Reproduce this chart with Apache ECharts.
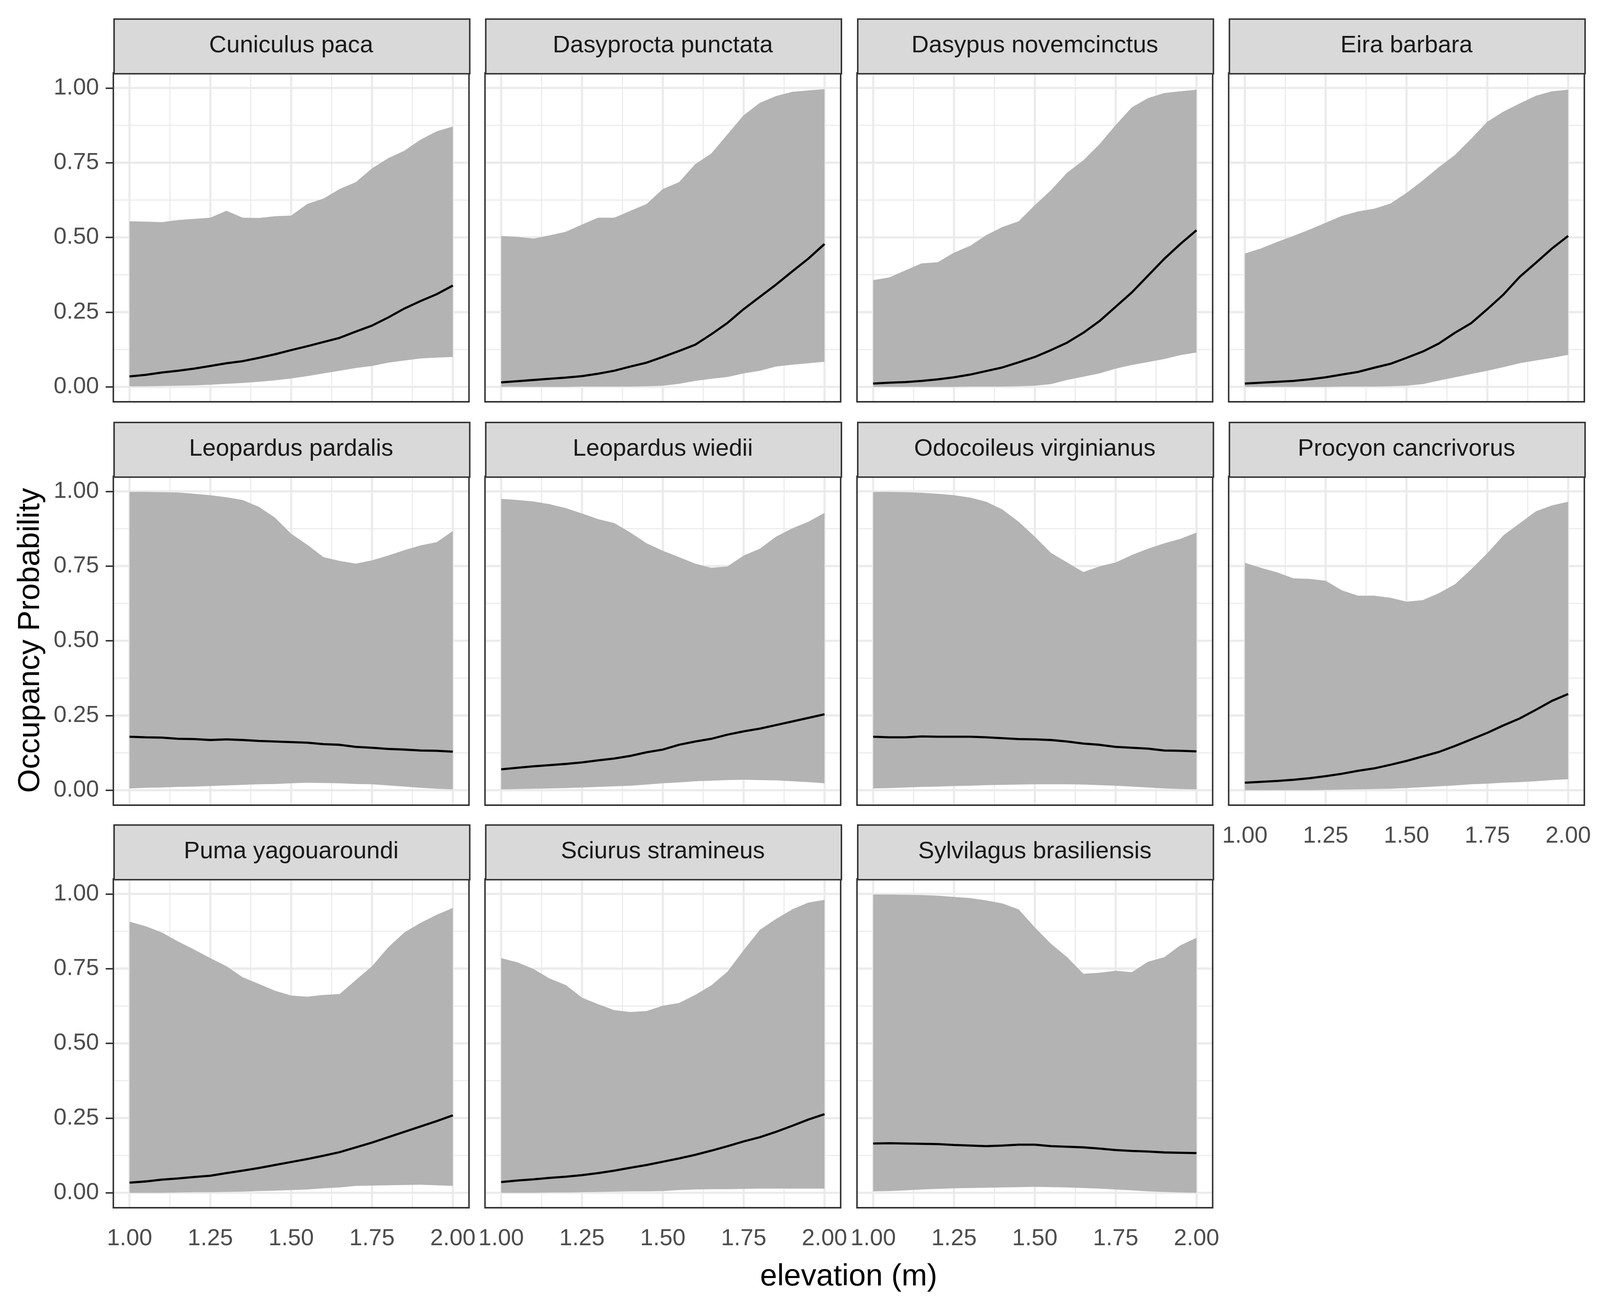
<!DOCTYPE html>
<html>
<head>
<meta charset="utf-8">
<script src="https://cdn.jsdelivr.net/npm/echarts@6/dist/echarts.min.js"></script>
<style>html,body{margin:0;padding:0;background:#fff;overflow:hidden}#c{width:100vw;height:100vh}</style>
</head>
<body>
<div id="c"></div>
<script>
// ---------- data ----------
const elevation = [1.00,1.05,1.10,1.15,1.20,1.25,1.30,1.35,1.40,1.45,1.50,1.55,1.60,1.65,1.70,1.75,1.80,1.85,1.90,1.95,2.00];
const xTicks = [1.00,1.25,1.50,1.75,2.00];
const xMinor = [1.125,1.375,1.625,1.875];
const yTicks = [0.00,0.25,0.50,0.75,1.00];
const yMinor = [0.125,0.375,0.625,0.875];
const species = ["Cuniculus paca","Dasyprocta punctata","Dasypus novemcinctus","Eira barbara",
  "Leopardus pardalis","Leopardus wiedii","Odocoileus virginianus","Procyon cancrivorus",
  "Puma yagouaroundi","Sciurus stramineus","Sylvilagus brasiliensis"];

const cuniculusMean  = [.035,.040,.048,.054,.061,.070,.079,.086,.097,.109,.123,.136,.150,.164,.185,.205,.232,.262,.287,.310,.339];
const cuniculusUpper = [.554,.553,.551,.558,.562,.566,.589,.566,.565,.571,.573,.612,.630,.662,.685,.731,.765,.790,.827,.855,.871];
const cuniculusLower = [.002,.002,.003,.004,.005,.007,.010,.013,.017,.022,.028,.036,.045,.054,.063,.070,.081,.088,.095,.098,.100];

const dasyproctaMean  = [.015,.019,.023,.027,.031,.036,.044,.054,.068,.081,.100,.120,.141,.176,.214,.260,.301,.342,.386,.429,.478];
const dasyproctaUpper = [.505,.502,.496,.507,.519,.543,.566,.566,.589,.612,.662,.685,.745,.781,.845,.909,.950,.973,.987,.992,.996];
const dasyproctaLower = [.000,.000,.000,.000,.000,.001,.001,.001,.001,.002,.004,.010,.020,.027,.033,.045,.054,.068,.074,.079,.084];

const dasypusMean  = [.011,.014,.016,.020,.025,.032,.041,.053,.065,.082,.100,.123,.148,.181,.220,.268,.316,.372,.428,.478,.524];
const dasypusUpper = [.357,.366,.390,.413,.417,.449,.472,.508,.535,.554,.608,.658,.717,.758,.812,.876,.935,.966,.983,.989,.994];
const dasypusLower = [.000,.000,.000,.000,.000,.000,.001,.001,.001,.002,.004,.009,.023,.034,.045,.061,.073,.083,.093,.106,.115];

const eiraMean  = [.011,.014,.017,.020,.025,.032,.041,.050,.064,.077,.097,.118,.145,.181,.213,.260,.309,.368,.415,.463,.505];
const eiraUpper = [.446,.463,.485,.505,.526,.549,.572,.587,.596,.613,.649,.690,.735,.776,.830,.887,.921,.948,.974,.989,.994];
const eiraLower = [.000,.000,.000,.000,.000,.000,.001,.001,.001,.002,.004,.009,.021,.032,.043,.054,.066,.079,.088,.097,.107];

const pardalisMean  = [.179,.177,.176,.172,.171,.168,.170,.168,.165,.163,.161,.159,.154,.152,.145,.142,.138,.136,.133,.132,.129];
const pardalisUpper = [.998,.998,.997,.996,.992,.987,.980,.971,.948,.912,.858,.821,.780,.767,.758,.769,.785,.803,.819,.830,.867];
const pardalisLower = [.006,.008,.009,.011,.012,.014,.016,.018,.020,.021,.023,.025,.024,.023,.021,.020,.016,.012,.008,.005,.003];

const wiediiMean  = [.070,.075,.080,.084,.088,.093,.100,.106,.115,.127,.136,.152,.163,.172,.186,.197,.206,.218,.230,.242,.254];
const wiediiUpper = [.975,.971,.966,.957,.944,.926,.907,.894,.862,.826,.801,.780,.758,.744,.749,.785,.808,.848,.876,.898,.928];
const wiediiLower = [.003,.004,.005,.006,.007,.009,.011,.013,.015,.019,.023,.026,.030,.032,.034,.035,.034,.033,.030,.027,.023];

const odocoileusMean  = [.179,.177,.177,.180,.179,.179,.179,.177,.174,.171,.170,.168,.163,.156,.152,.145,.142,.139,.133,.132,.130];
const odocoileusUpper = [.998,.998,.997,.995,.992,.987,.979,.965,.939,.898,.848,.794,.762,.730,.749,.762,.787,.808,.826,.841,.862];
const odocoileusLower = [.006,.007,.009,.011,.012,.014,.015,.017,.018,.019,.020,.020,.020,.019,.017,.015,.012,.009,.006,.004,.003];

const procyonMean  = [.025,.028,.031,.035,.040,.047,.055,.065,.073,.085,.098,.113,.128,.148,.170,.192,.217,.240,.269,.299,.322];
const procyonUpper = [.761,.744,.729,.709,.707,.701,.669,.651,.651,.644,.631,.636,.659,.689,.739,.793,.853,.893,.933,.953,.965];
const procyonLower = [.000,.000,.000,.000,.000,.001,.002,.003,.004,.005,.007,.010,.013,.016,.020,.022,.025,.027,.030,.034,.037];

const pumaMean  = [.034,.038,.044,.048,.053,.057,.066,.074,.083,.093,.103,.113,.124,.136,.152,.168,.186,.204,.222,.240,.259];
const pumaUpper = [.907,.892,.871,.841,.814,.785,.758,.721,.699,.676,.660,.656,.662,.665,.712,.758,.821,.871,.903,.930,.953];
const pumaLower = [.000,.000,.000,.001,.002,.002,.003,.004,.006,.007,.009,.011,.015,.018,.023,.024,.025,.026,.027,.025,.023];

const sciurusMean  = [.036,.041,.045,.050,.054,.059,.066,.074,.084,.093,.104,.115,.127,.141,.156,.172,.186,.204,.224,.245,.263];
const sciurusUpper = [.785,.771,.749,.717,.695,.653,.631,.611,.605,.608,.626,.635,.662,.694,.740,.812,.880,.916,.948,.971,.980];
const sciurusLower = [.000,.000,.000,.001,.001,.002,.003,.004,.005,.005,.006,.009,.011,.012,.012,.013,.014,.014,.014,.014,.014];

const sylvilagusMean  = [.165,.166,.165,.164,.163,.160,.158,.156,.158,.161,.161,.156,.154,.152,.148,.143,.140,.138,.135,.134,.133];
const sylvilagusUpper = [.998,.998,.997,.996,.994,.990,.986,.978,.968,.948,.888,.833,.788,.733,.736,.743,.738,.773,.788,.828,.853];
const sylvilagusLower = [.005,.006,.008,.011,.013,.015,.016,.017,.018,.019,.020,.019,.018,.016,.014,.011,.008,.005,.003,.001,.000];

const meanList  = [cuniculusMean,dasyproctaMean,dasypusMean,eiraMean,pardalisMean,wiediiMean,odocoileusMean,procyonMean,pumaMean,sciurusMean,sylvilagusMean];
const upperList = [cuniculusUpper,dasyproctaUpper,dasypusUpper,eiraUpper,pardalisUpper,wiediiUpper,odocoileusUpper,procyonUpper,pumaUpper,sciurusUpper,sylvilagusUpper];
const lowerList = [cuniculusLower,dasyproctaLower,dasypusLower,eiraLower,pardalisLower,wiediiLower,odocoileusLower,procyonLower,pumaLower,sciurusLower,sylvilagusLower];

// ---------- layout (designed for 4800x3360, scaled to the real viewport) ----------
const FONT = "'Liberation Sans', Arial, sans-serif";
const chart = echarts.init(document.getElementById('c'), null, {renderer: 'canvas'});
const SX = chart.getWidth() / 4800, SY = chart.getHeight() / 3360, S = Math.min(SX, SY);
const colLeft = [340, 1455, 2571, 3686];
const rowTop = [187, 1220, 2251];
const PW = 1067, PH = 842, STRIP = 140;
const xLim = [0.95, 2.05], yLim = [-0.05, 1.05];

const grids = [], xAxes = [], yAxes = [], series = [], graphics = [];

const gridLineData = [];
xTicks.forEach(v => gridLineData.push([0, v, 1]));
xMinor.forEach(v => gridLineData.push([0, v, 0]));
yTicks.forEach(v => gridLineData.push([1, v, 1]));
yMinor.forEach(v => gridLineData.push([1, v, 0]));

species.forEach((name, i) => {
  const row = Math.floor(i / 4), col = i % 4;
  const left = colLeft[col] * SX, top = rowTop[row] * SY;
  const w = PW * SX, h = PH * SY, sh = STRIP * SY;
  const showX = (i >= 8 || i === 7);
  const showY = (col === 0);
  grids.push({left: left, top: top, width: w, height: h, show: true,
    backgroundColor: 'rgba(0,0,0,0)', borderColor: '#333333', borderWidth: 4.5 * S, z: 10});
  xAxes.push({type: 'value', gridIndex: i, min: xLim[0], max: xLim[1],
    splitLine: {show: false}, axisLine: {show: false},
    axisTick: {show: showX, length: 23 * SY, lineStyle: {color: '#333333', width: 4.5 * S}, customValues: xTicks},
    axisLabel: {show: showX, customValues: xTicks, formatter: v => v.toFixed(2),
      fontSize: 70 * S, color: '#4D4D4D', margin: 50 * SY, fontFamily: FONT}});
  yAxes.push({type: 'value', gridIndex: i, min: yLim[0], max: yLim[1],
    splitLine: {show: false}, axisLine: {show: false},
    axisTick: {show: showY, length: 23 * SX, lineStyle: {color: '#333333', width: 4.5 * S}, customValues: yTicks},
    axisLabel: {show: showY, customValues: yTicks, formatter: v => v.toFixed(2),
      fontSize: 70 * S, color: '#4D4D4D', margin: 43 * SX, fontFamily: FONT}});

  // background grid lines (major + minor)
  series.push({type: 'custom', xAxisIndex: i, yAxisIndex: i, silent: true, z: 1,
    data: gridLineData,
    renderItem: (params, api) => {
      const kind = api.value(0), v = api.value(1), major = api.value(2);
      const p1 = kind === 0 ? api.coord([v, yLim[0]]) : api.coord([xLim[0], v]);
      const p2 = kind === 0 ? api.coord([v, yLim[1]]) : api.coord([xLim[1], v]);
      return {type: 'line', shape: {x1: p1[0], y1: p1[1], x2: p2[0], y2: p2[1]},
        style: {stroke: '#EBEBEB', lineWidth: (major ? 6.5 : 3.3) * S}};
    }});

  // ribbon
  const up = upperList[i], lo = lowerList[i];
  series.push({type: 'custom', xAxisIndex: i, yAxisIndex: i, silent: true, z: 2,
    data: [[1.5, 0.5]],
    renderItem: (params, api) => {
      const pts = [];
      for (let k = 0; k < elevation.length; k++) pts.push(api.coord([elevation[k], up[k]]));
      for (let k = elevation.length - 1; k >= 0; k--) pts.push(api.coord([elevation[k], lo[k]]));
      return {type: 'polygon', shape: {points: pts}, style: {fill: '#B3B3B3'}};
    }});

  // mean line
  series.push({type: 'line', xAxisIndex: i, yAxisIndex: i, z: 3, silent: true,
    data: elevation.map((x, k) => [x, meanList[i][k]]),
    showSymbol: false, symbol: 'none', smooth: false, animation: false,
    lineStyle: {color: '#000000', width: 6.5 * S}});

  // strip
  graphics.push({type: 'rect', left: left, top: top - sh, z: 20,
    shape: {width: w, height: sh},
    style: {fill: '#D9D9D9', stroke: '#333333', lineWidth: 4.5 * S}});
  graphics.push({type: 'text', x: left + w / 2, y: top - sh / 2, z: 21,
    style: {text: name, fill: '#1A1A1A', font: (72 * S) + 'px ' + FONT, textAlign: 'center', textVerticalAlign: 'middle'}});
});

graphics.push({type: 'text', x: 2546 * SX, y: 3270 * SY, z: 21,
  style: {text: 'elevation (m)', fill: '#000000', font: (92 * S) + 'px ' + FONT, textAlign: 'center', textVerticalAlign: 'middle'}});
graphics.push({type: 'text', x: 92 * SX, y: 1640 * SY, rotation: Math.PI / 2, z: 21,
  style: {text: 'Occupancy Probability', fill: '#000000', font: (92 * S) + 'px ' + FONT, textAlign: 'center', textVerticalAlign: 'middle'}});

chart.setOption({
  backgroundColor: '#ffffff',
  animation: false,
  grid: grids, xAxis: xAxes, yAxis: yAxes, series: series,
  graphic: {elements: graphics}
});
</script>
</body>
</html>
